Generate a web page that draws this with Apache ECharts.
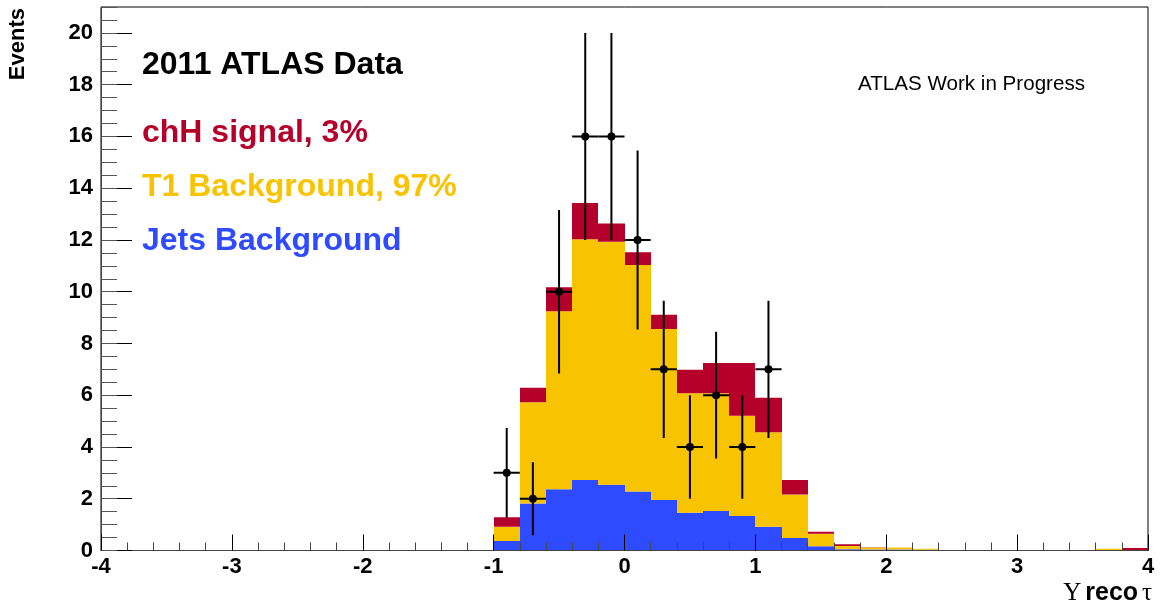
<!DOCTYPE html>
<html>
<head>
<meta charset="utf-8">
<script src="https://cdn.jsdelivr.net/npm/echarts@6/dist/echarts.min.js"></script>
<style>
  html, body { margin: 0; padding: 0; background: #fff; }
  #chart { width: 1166px; height: 610px; }
</style>
</head>
<body>
<div id="chart"></div>
<script>
// Histogram bins (centres of the filled bins, width 0.2)
const binCenters = [-0.9, -0.7, -0.5, -0.3, -0.1, 0.1, 0.3, 0.5, 0.7, 0.9, 1.1, 1.3, 1.5, 1.7, 1.9, 2.1, 2.3, 3.7, 3.9];
const binWidth = 0.2;

// Stacked components, bottom to top
const jetsBkg = [0.37, 1.82, 2.37, 2.72, 2.54, 2.28, 1.95, 1.46, 1.53, 1.33, 0.92, 0.48, 0.16, 0.05, 0.04, 0.04, 0.03, 0.00, 0.00];
const t1Bkg   = [0.55, 3.91, 6.87, 9.31, 9.39, 8.75, 6.61, 4.62, 4.55, 3.88, 3.65, 1.68, 0.49, 0.12, 0.08, 0.08, 0.04, 0.07, 0.02];
const chHSig  = [0.36, 0.56, 0.93, 1.40, 0.70, 0.49, 0.55, 0.90, 1.16, 2.03, 1.33, 0.56, 0.07, 0.07, 0.01, 0.00, 0.00, 0.00, 0.08];

// Data points with statistical errors
const dataX   = [-0.9, -0.7, -0.5, -0.3, -0.1, 0.1, 0.3, 0.5, 0.7, 0.9, 1.1];
const dataY   = [3, 2, 10, 16, 16, 12, 7, 4, 6, 4, 7];
const dataErr = [1.73, 1.41, 3.16, 4.00, 4.00, 3.46, 2.65, 2.00, 2.45, 2.00, 2.65];

// Axis ranges and ticks
const xMin = -4, xMax = 4, xStep = 1;
const yMin = 0, yMax = 21, yMajor = 2, yMinor = 0.5;

const RED = '#b4002a', YELLOW = '#f8c300', BLUE = '#2f4bff';
const FONT = '"Liberation Sans", Arial, Helvetica, sans-serif';
const SERIF = '"Liberation Serif", "DejaVu Serif", serif';

// Build [lo, hi, base, top] rectangles for each stacked layer
function layer(values, below) {
  return binCenters.map((c, i) => {
    const base = below.reduce((s, arr) => s + arr[i], 0);
    return [c - binWidth / 2, c + binWidth / 2, base, base + values[i]];
  });
}

function histSeries(name, data, color) {
  return {
    name: name,
    type: 'custom',
    z: 2,
    clip: true,
    encode: { x: [0, 1], y: [2, 3] },
    data: data,
    renderItem: function (params, api) {
      const a = api.coord([api.value(0), api.value(3)]);
      const b = api.coord([api.value(1), api.value(2)]);
      // snap horizontal edges to whole pixels so adjacent bins join without seams
      const x0 = Math.round(a[0]), x1 = Math.round(b[0]);
      return {
        type: 'rect',
        shape: { x: x0, y: a[1], width: x1 - x0, height: b[1] - a[1] },
        style: { fill: color }
      };
    }
  };
}

const points = dataX.map((x, i) => [x, dataY[i], dataErr[i]]);

const chart = echarts.init(document.getElementById('chart'), null, { renderer: 'canvas' });

const option = {
  animation: false,
  backgroundColor: '#ffffff',
  grid: {
    left: 101, right: 18, top: 7, bottom: 59.5,
    show: true, borderColor: '#000', borderWidth: 1, backgroundColor: 'transparent',
    containLabel: false, outerBoundsMode: 'none'
  },
  xAxis: {
    type: 'value', min: xMin, max: xMax, interval: xStep, z: 5,
    axisLine: { show: true, onZero: false, lineStyle: { color: '#444', width: 1 } },
    axisTick: { show: true, inside: true, length: 16, lineStyle: { color: '#000', width: 1 } },
    minorTick: { show: true, splitNumber: 5, length: 8, lineStyle: { color: '#444', width: 1 } },
    splitLine: { show: false }, minorSplitLine: { show: false },
    axisLabel: { show: true, margin: 5, color: '#000', fontFamily: FONT, fontWeight: 'bold', fontSize: 22 }
  },
  yAxis: [
    {
      type: 'value', min: yMin, max: yMax, interval: yMajor, position: 'left', offset: 0, z: 5,
      axisLine: { show: true, onZero: false, lineStyle: { color: '#444', width: 1 } },
      axisTick: { show: true, inside: true, length: 31, lineStyle: { color: '#000', width: 1 } },
      splitLine: { show: false },
      axisLabel: { show: true, showMaxLabel: false, margin: 8, color: '#000', fontFamily: FONT, fontWeight: 'bold', fontSize: 22 }
    },
    {
      type: 'value', min: yMin, max: yMax, interval: yMinor, position: 'left', offset: 0, z: 5,
      axisLine: { show: false, onZero: false },
      axisTick: { show: true, inside: true, length: 16, lineStyle: { color: '#555', width: 1 } },
      splitLine: { show: false },
      axisLabel: { show: false }
    }
  ],
  series: [
    histSeries('Jets Background', layer(jetsBkg, []), BLUE),
    histSeries('T1 Background', layer(t1Bkg, [jetsBkg]), YELLOW),
    histSeries('chH signal', layer(chHSig, [jetsBkg, t1Bkg]), RED),
    {
      name: '2011 ATLAS Data',
      type: 'custom',
      z: 4,
      clip: true,
      encode: { x: 0, y: 1 },
      data: points,
      renderItem: function (params, api) {
        const x = api.value(0), y = api.value(1), e = api.value(2);
        const c = api.coord([x, y]);
        const top = api.coord([x, y + e]);
        const bot = api.coord([x, y - e]);
        const lft = api.coord([x - binWidth / 2, y]);
        const rgt = api.coord([x + binWidth / 2, y]);
        const ls = { stroke: '#000', lineWidth: 2 };
        return {
          type: 'group',
          children: [
            { type: 'line', shape: { x1: c[0], y1: top[1], x2: c[0], y2: bot[1] }, style: ls },
            { type: 'line', shape: { x1: lft[0], y1: c[1], x2: rgt[0], y2: c[1] }, style: ls },
            { type: 'circle', shape: { cx: c[0], cy: c[1], r: 4 }, style: { fill: '#000' } }
          ]
        };
      }
    }
  ],
  graphic: [
    { type: 'text', left: 142, top: 49, z: 10,
      style: { text: '2011 ATLAS Data', font: 'bold 32px ' + FONT, fill: '#000' } },
    { type: 'text', left: 142, top: 117, z: 10,
      style: { text: 'chH signal, 3%', font: 'bold 32px ' + FONT, fill: RED } },
    { type: 'text', left: 142, top: 171, z: 10,
      style: { text: 'T1 Background, 97%', font: 'bold 32px ' + FONT, fill: YELLOW } },
    { type: 'text', left: 142, top: 225, z: 10,
      style: { text: 'Jets Background', font: 'bold 32px ' + FONT, fill: BLUE } },
    { type: 'text', left: 858, top: 74, z: 10,
      style: { text: 'ATLAS Work in Progress', font: '20.6px ' + FONT, fill: '#000' } },
    { type: 'text', x: 18, y: 8, rotation: Math.PI / 2, z: 10,
      style: { text: 'Events', font: 'bold 22px ' + FONT, fill: '#000', textAlign: 'right', textVerticalAlign: 'middle' } },
    { type: 'text', right: 14, top: 581, z: 10,
      style: {
        text: '{g|Υ}{s| }{b|reco}{s| }{g|τ}',
        rich: {
          g: { fontFamily: SERIF, fontSize: 25, fill: '#000', color: '#000' },
          s: { fontFamily: FONT, fontSize: 14, fill: '#000', color: '#000' },
          b: { fontFamily: FONT, fontSize: 25, fontWeight: 'bold', fill: '#000', color: '#000' }
        }
      } }
  ]
};

chart.setOption(option);
</script>
</body>
</html>
